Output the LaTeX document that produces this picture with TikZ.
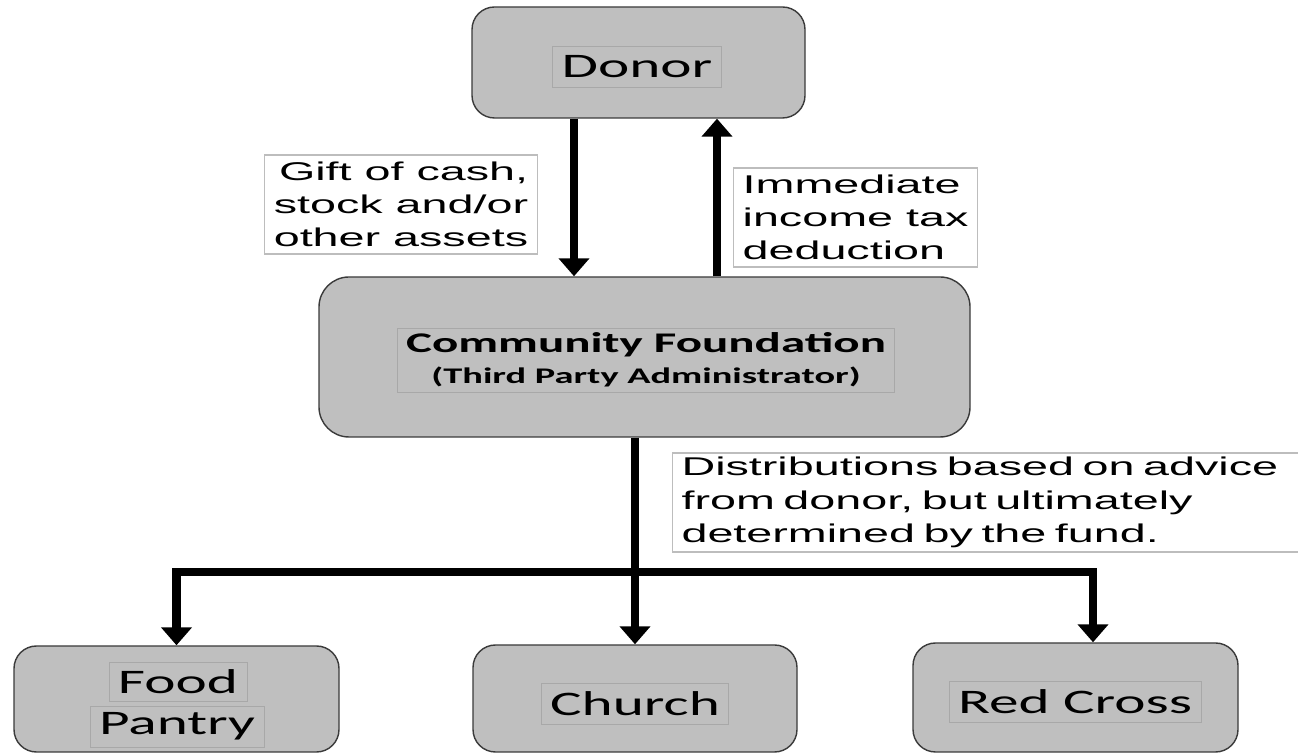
\documentclass[tikz,border=0pt]{standalone}
\usepackage{fontspec}
\newfontfamily\boxfont[FakeStretch=1.72]{Carlito}
\newfontfamily\notefont[FakeStretch=1.82]{Liberation Sans}
\usetikzlibrary{arrows.meta}
\usetikzlibrary{calc}

\definecolor{boxgray}{HTML}{BFBFBF}
\definecolor{rimgray}{HTML}{3A3A3A}
\definecolor{framegray}{HTML}{A8A8A8}
\definecolor{notegray}{HTML}{BDBDBD}

\begin{document}
\begin{tikzpicture}[
		party/.style={draw=rimgray,line width=0.8pt,fill=boxgray,rounded corners=0.45cm,inner sep=0pt},
		caption/.style={draw=framegray,line width=0.5pt,inner xsep=0.18cm,inner ysep=0pt,minimum height=0.82cm,font=\boxfont\fontsize{19.6}{22}\selectfont},
		note/.style={draw=notegray,line width=0.6pt,fill=white,inner xsep=0.18cm,inner ysep=0pt,minimum height=1.98cm,font=\notefont\fontsize{14.6}{18.9}\selectfont},
		flow/.style={line width=4.6pt,-{Triangle[width=0.6cm,length=0.36cm]}}
	]
		\useasboundingbox (0,0) rectangle (25.96,15.08);

		% Boxes for the donor, the fund and the three charities
		\node[party,minimum width=6.66cm,minimum height=2.22cm] (donor) at (12.77,13.83) {};
		\node[party,rounded corners=0.6cm,minimum width=13.02cm,minimum height=3.2cm] (fund) at (12.89,7.94) {};
		\node[party,minimum width=6.5cm,minimum height=2.12cm] (pantry) at (3.53,1.10) {};
		\node[party,minimum width=6.48cm,minimum height=2.14cm] (church) at (12.7,1.11) {};
		\node[party,minimum width=6.5cm,minimum height=2.18cm] (redcross) at (21.51,1.13) {};

		\node[caption] (donorname) at (12.74,13.75) {Donor};
		\node[caption,minimum height=1.28cm,align=center,font=\boxfont\bfseries] (fundname) at (12.92,7.88)
			{\fontsize{16.2}{17}\selectfont Community Foundation\\[0.2cm]\fontsize{12.7}{17}\selectfont (Third Party Administrator)};
		\node[caption,minimum height=0.78cm] (food) at (3.56,1.45) {Food};
		\node[caption] (pantryname) at (3.54,0.55) {Pantry};
		\node[caption] (churchname) at (12.7,1.01) {Church};
		\node[caption] (redcrossname) at (21.5,1.04) {Red Cross};

		% Gift goes down, the deduction comes back up
		\coordinate (giftfoot) at ([xshift=-1.29cm]donor.south);
		\draw[flow] (giftfoot) -- (giftfoot |- fund.north);
		\coordinate (taxfoot) at ([xshift=1.45cm]fund.north);
		\draw[flow] (taxfoot) -- (taxfoot |- donor.south);

		% Split to the charities
		\coordinate (fork) at (church.north |- 0,3.64);
		\coordinate (redtop) at ([xshift=0.35cm]redcross.north);
		\draw[flow] (church.north |- fund.south) -- (church.north);
		\draw[flow] (fork) -| (pantry.north);
		\draw[flow] (fork) -| (redtop);

		\node[note,minimum width=5.46cm,align=right,anchor=east] (gift) at (10.76,10.99)
			{Gift of cash,\\stock and/or\\other assets};
		\node[note,minimum width=4.88cm,align=left,anchor=west] (taxnote) at (14.66,10.73)
			{Immediate\\income tax\\deduction};
		\node[note,text width=12.3cm,align=left,anchor=west] (advice) at (13.44,5.03)
			{Distributions based on advice\\from donor, but ultimately\\determined by the fund.};
	\end{tikzpicture}
\end{document}
